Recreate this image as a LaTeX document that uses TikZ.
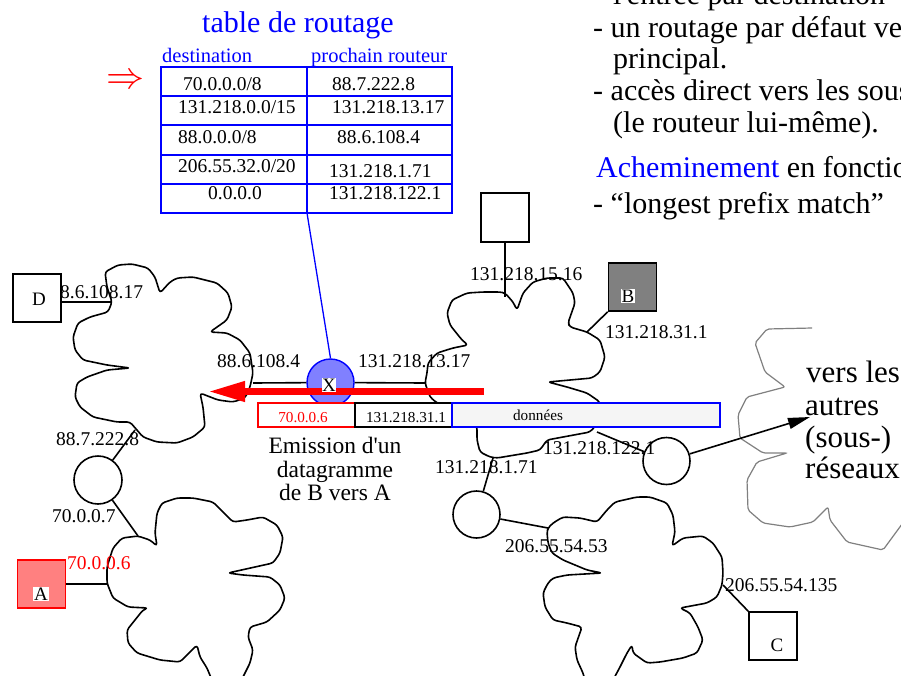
\documentclass[tikz,border=0pt]{standalone}
\usepackage{fontspec}
\setmainfont{Liberation Serif}
\newfontfamily\rawserif{Liberation Serif}
\usetikzlibrary{arrows.meta}
\definecolor{xblue}{RGB}{0,0,255}
\definecolor{xviolet}{RGB}{128,128,255}
\definecolor{apink}{RGB}{255,128,128}
\definecolor{bgray}{RGB}{128,128,128}
\definecolor{pktgray}{RGB}{245,245,245}
\definecolor{cloudgray}{RGB}{128,128,128}
\begin{document}
\begin{tikzpicture}[x=1pt,y=-1pt,
  every node/.style={inner sep=0pt},
  lbl/.style={anchor=base west, font=\fontsize{19.5}{20}\selectfont},
  tcell/.style={anchor=base west, font=\fontsize{19.5}{20}\selectfont},
  big/.style={anchor=base west, font=\fontsize{30}{32}\selectfont},
  vers/.style={anchor=base west, font=\fontsize{31}{32}\selectfont},
  emis/.style={anchor=base, font=\rawserif\fontsize{23.5}{24}\selectfont},
  pkttxt/.style={anchor=base, font=\fontsize{15.2}{16}\selectfont},
  letter/.style={font=\fontsize{19}{20}\selectfont, inner sep=1pt},
  cloudline/.style={line width=1.6pt, rounded corners=3pt, line join=round},
  conn/.style={line width=1.6pt},
  sq/.style={draw, fill=white, line width=1.6pt, minimum width=48pt, minimum height=48pt},
  rtr/.style={draw, fill=white, circle, line width=1.6pt},
  tline/.style={xblue, line width=2pt},
  pkt/.style={draw, line width=2pt, minimum height=24pt, fill=white}
]
\useasboundingbox (0,0) rectangle (901,675);
\fill[white] (0,0) rectangle (901,675);
\clip (0,0) rectangle (901,675);

% ---------- text at top right ----------
\node[big, font=\rawserif\fontsize{30}{32}\selectfont] (t0) at (613,4) {l'entrée par destination};
\node[big] (t1) at (593,37) {- un routage par défaut vers};
\node[big] (t2) at (613,68) {principal.};
\node[big] (t3) at (593,100) {- accès direct vers les sous};
\node[big] (t4) at (613,132) {(le routeur lui-même).};
\node[big] (t5) at (596,177) {\textcolor{xblue}{Acheminement} en fonction};
\node[big] (t6) at (593,213) {- “longest prefix match”};

% ---------- clouds ----------
\draw[cloudgray, line width=1.2pt, rounded corners=2pt] (812,328) -- (767,329) -- (755,343) -- (765,372) -- (785,387) -- (747,397) -- (738,415) -- (740,438) -- (763,453) -- (787,453) -- (757,462) -- (747,480) -- (748,510) -- (763,523) -- (790,527) -- (813,522) -- (828,507) -- (830,520) -- (847,542) -- (883,550) -- (905,520);

\draw[cloudline] (112,302) -- (107,287) -- (105,272) -- (118,265) -- (132,264) -- (148,268) -- (155,277) -- (160,293) -- (170,282) -- (177,278) -- (193,277) -- (217,283) -- (228,293) -- (232,307) -- (227,320) -- (210,332) -- (227,333) -- (240,340) -- (250,353) -- (253,373) -- (250,387) -- (245,398) -- (233,402) -- (218,400) -- (200,393) -- (203,407) -- (205,427) -- (193,437) -- (177,443) -- (157,442) -- (143,437) -- (130,422) -- (117,422) -- (93,417) -- (80,407) -- (75,397) -- (77,383) -- (87,377) -- (107,370) -- (130,368) -- (107,365) -- (83,360) -- (75,350) -- (73,337) -- (78,323) -- (90,317) -- (108,312) -- cycle;

\draw[cloudline] (107,583) -- (107,567) -- (113,548) -- (122,538) -- (138,536) -- (150,540) -- (157,546) -- (155,533) -- (157,513) -- (162,503) -- (177,498) -- (193,498) -- (213,502) -- (223,512) -- (233,522) -- (247,520) -- (263,517) -- (277,525) -- (283,537) -- (280,553) -- (273,563) -- (228,573) -- (243,575) -- (270,577) -- (280,585) -- (285,598) -- (280,610) -- (267,622) -- (250,627) -- (248,637) -- (253,650) -- (250,663) -- (243,677) -- (236,690) -- (216,690) -- (207,668) -- (200,657) -- (197,645) -- (180,662) -- (160,660) -- (137,653) -- (128,643) -- (127,630) -- (135,620) -- (143,610) -- (148,608) -- (128,607) -- (113,598) -- cycle;

\draw[cloudline] (517,310) -- (523,293) -- (533,282) -- (547,278) -- (563,278) -- (573,293) -- (575,303) -- (568,323) -- (570,327) -- (587,332) -- (600,340) -- (605,357) -- (600,372) -- (592,378) -- (548,382) -- (567,387) -- (587,393) -- (600,402) -- (598,423) -- (590,432) -- (563,437) -- (547,440) -- (540,450) -- (527,453) -- (497,458) -- (490,457) -- (480,452) -- (477,440) -- (477,427) -- (470,414) -- (437,403) -- (430,397) -- (425,383) -- (427,373) -- (428,363) -- (437,353) -- (453,348) -- (468,345) -- (462,340) -- (450,325) -- (447,313) -- (452,300) -- (467,293) -- (483,292) -- (500,292) -- (505,293) -- (513,302) -- cycle;

\draw[cloudline] (548,528) -- (553,523) -- (563,517) -- (580,518) -- (597,522) -- (607,510) -- (615,502) -- (637,497) -- (650,497) -- (667,503) -- (673,515) -- (675,532) -- (672,546) -- (683,538) -- (703,536) -- (713,543) -- (722,557) -- (723,573) -- (722,585) -- (717,597) -- (707,603) -- (680,608) -- (690,613) -- (698,627) -- (703,640) -- (697,653) -- (683,658) -- (660,662) -- (647,663) -- (633,653) -- (632,645) -- (627,653) -- (620,667) -- (613,680) -- (608,690) -- (588,690) -- (583,673) -- (577,660) -- (575,647) -- (582,627) -- (567,623) -- (553,620) -- (545,607) -- (543,593) -- (548,583) -- (553,578) -- (567,575) -- (602,573) -- (587,570) -- (563,560) -- (552,553) -- (548,543) -- (547,532) -- cycle;

% ---------- attachment points on clouds ----------
\coordinate (c1D) at (112,302);
\coordinate (c1r) at (135,430);
\coordinate (c1X) at (253,383);
\coordinate (c2A) at (107,584);
\coordinate (c2r) at (138,536);
\coordinate (c3X) at (425,383);
\coordinate (c3T) at (505,297);
\coordinate (c3B) at (587,332);
\coordinate (c3R2) at (493,458);
\coordinate (c3R3) at (597,432);
\coordinate (c4R2) at (548,528);
\coordinate (c4C) at (723,585);
\coordinate (versend) at (810,417);
\coordinate (tabbot) at (307,213);

% ---------- hosts and routers ----------
\node[sq] (D) at (37,298) {};
\node[sq, minimum height=49pt] (T) at (505,217.5) {};
\node[sq, fill=bgray] (B) at (632.5,287) {};
\node[sq, draw=red, fill=apink] (A) at (41.5,584) {};
\node[sq] (C) at (773,636) {};
\node[rtr, minimum size=48pt] (R1) at (98,480) {};
\node[rtr, minimum size=47pt] (R2) at (476.5,514.5) {};
\node[rtr, minimum size=47pt] (R3) at (666.5,461) {};
\node[circle, draw=xblue, fill=xviolet, line width=1.4pt, minimum size=47pt] (X) at (330.5,382.5) {};

\node[letter] (Dl) at (39,299) {D};
\node[letter, fill=white] (Bl) at (628,296) {B};
\node[letter, fill=white] (Al) at (41,594) {A};
\node[letter] (Cl) at (777,645) {C};

% ---------- connectors ----------
\draw[conn] (D.east |- c1D) -- (c1D);
\draw[conn] (A) -- (c2A);
\draw[conn] (R1) -- (c1r);
\draw[conn] (R1) -- (c2r);
\draw[conn] (c1X) -- (X);
\draw[conn] (X) -- (c3X);
\draw[conn] (T) -- (c3T);
\draw[conn] (B.south west) -- (c3B);
\draw[conn] (c3R2) -- (R2);
\draw[conn] (c3R3) -- (R3);
\draw[conn] (R2) -- (c4R2);
\draw[conn] (c4C) -- (C.north west);
\draw[conn, -{Triangle[length=22pt,width=11pt]}] (R3) -- (versend);

% ---------- address labels ----------
\node[lbl] (lD) at (60,298) {8.6.108.17};
\node[lbl] (lX1) at (217,367) {88.6.108.4};
\node[lbl] (lX2) at (358,367) {131.218.13.17};
\node[lbl] (lT) at (470,280) {131.218.15.16};
\node[lbl] (lB) at (605,338) {131.218.31.1};
\node[lbl] (lR1a) at (56,445) {88.7.222.8};
\node[lbl] (lR1b) at (52,522) {70.0.0.7};
\node[lbl, text=red] (lA) at (67,569) {70.0.0.6};
\node[lbl] (lR2a) at (435,473) {131.218.1.71};
\node[lbl] (lR3) at (543,454) {131.218.122.1};
\node[lbl] (lR2b) at (505,552) {206.55.54.53};
\node[lbl] (lC) at (725,591) {206.55.54.135};

% ---------- vers les autres ----------
\node[vers] (v1) at (806,382) {vers les};
\node[vers] (v2) at (805,415) {autres};
\node[vers] (v3) at (805,447) {(sous-)};
\node[vers] (v4) at (805,478) {réseaux};

% ---------- routing table ----------
\node[anchor=base west, font=\fontsize{30}{32}\selectfont, text=xblue] (title) at (202,32) {table de routage};
\node[anchor=base west, font=\fontsize{20.5}{21}\selectfont, text=xblue] (h1) at (162,62) {destination};
\node[anchor=base west, font=\fontsize{20.5}{21}\selectfont, text=xblue] (h2) at (311,62) {prochain routeur};
\draw[tline] (161,67) rectangle (452,213);
\draw[tline] (161,96) -- (452,96);
\draw[tline] (161,125) -- (452,125);
\draw[tline] (161,155) -- (452,155);
\draw[tline] (161,184) -- (452,184);
\draw[tline] (307,67) -- (tabbot);
\draw[xblue, line width=1.3pt] (tabbot) -- (X.north);
\node[tcell] (d1) at (183,90) {70.0.0.0/8};
\node[tcell] (n1) at (332,90) {88.7.222.8};
\node[tcell] (d2) at (178,113) {131.218.0.0/15};
\node[tcell] (n2) at (332,113) {131.218.13.17};
\node[tcell] (d3) at (178,143) {88.0.0.0/8};
\node[tcell] (n3) at (337,143) {88.6.108.4};
\node[tcell] (d4) at (178,172) {206.55.32.0/20};
\node[tcell] (n4) at (329,177) {131.218.1.71};
\node[tcell] (d5) at (208,199) {0.0.0.0};
\node[tcell] (n5) at (329,199) {131.218.122.1};
\node[text=red, scale=1.53, font=\fontsize{24.88}{25}\selectfont] (arr) at (126,82) {$\Rightarrow$};

% ---------- datagram ----------
\node[pkt, draw=red, minimum width=97pt] (p1) at (306.5,415) {};
\node[pkt, draw=black, minimum width=97pt] (p2) at (403.5,415) {};
\node[pkt, draw=xblue, fill=pktgray, minimum width=268pt] (p3) at (586,415) {};
\node[pkttxt, text=red] (p1t) at (303,422) {70.0.0.6};
\node[pkttxt] (p2t) at (406,422) {131.218.31.1};
\node[pkttxt] (p3t) at (538,420) {données};

\node[emis] (e1) at (335,453) {Emission d'un};
\node[emis] (e2) at (335,477) {datagramme};
\node[emis] (e3) at (335,500) {de B vers A};

% ---------- red arrow ----------
\coordinate (ra1) at (484,391.5);
\coordinate (ra2) at (208,391.5);
\draw[red, line width=7pt, -{Triangle[length=37pt,width=19pt]}] (ra1) -- (ra2);
\node[font=\fontsize{19}{20}\selectfont, fill=white, inner sep=0.5pt] (Xl) at (329,385) {X};
\end{tikzpicture}
\end{document}
